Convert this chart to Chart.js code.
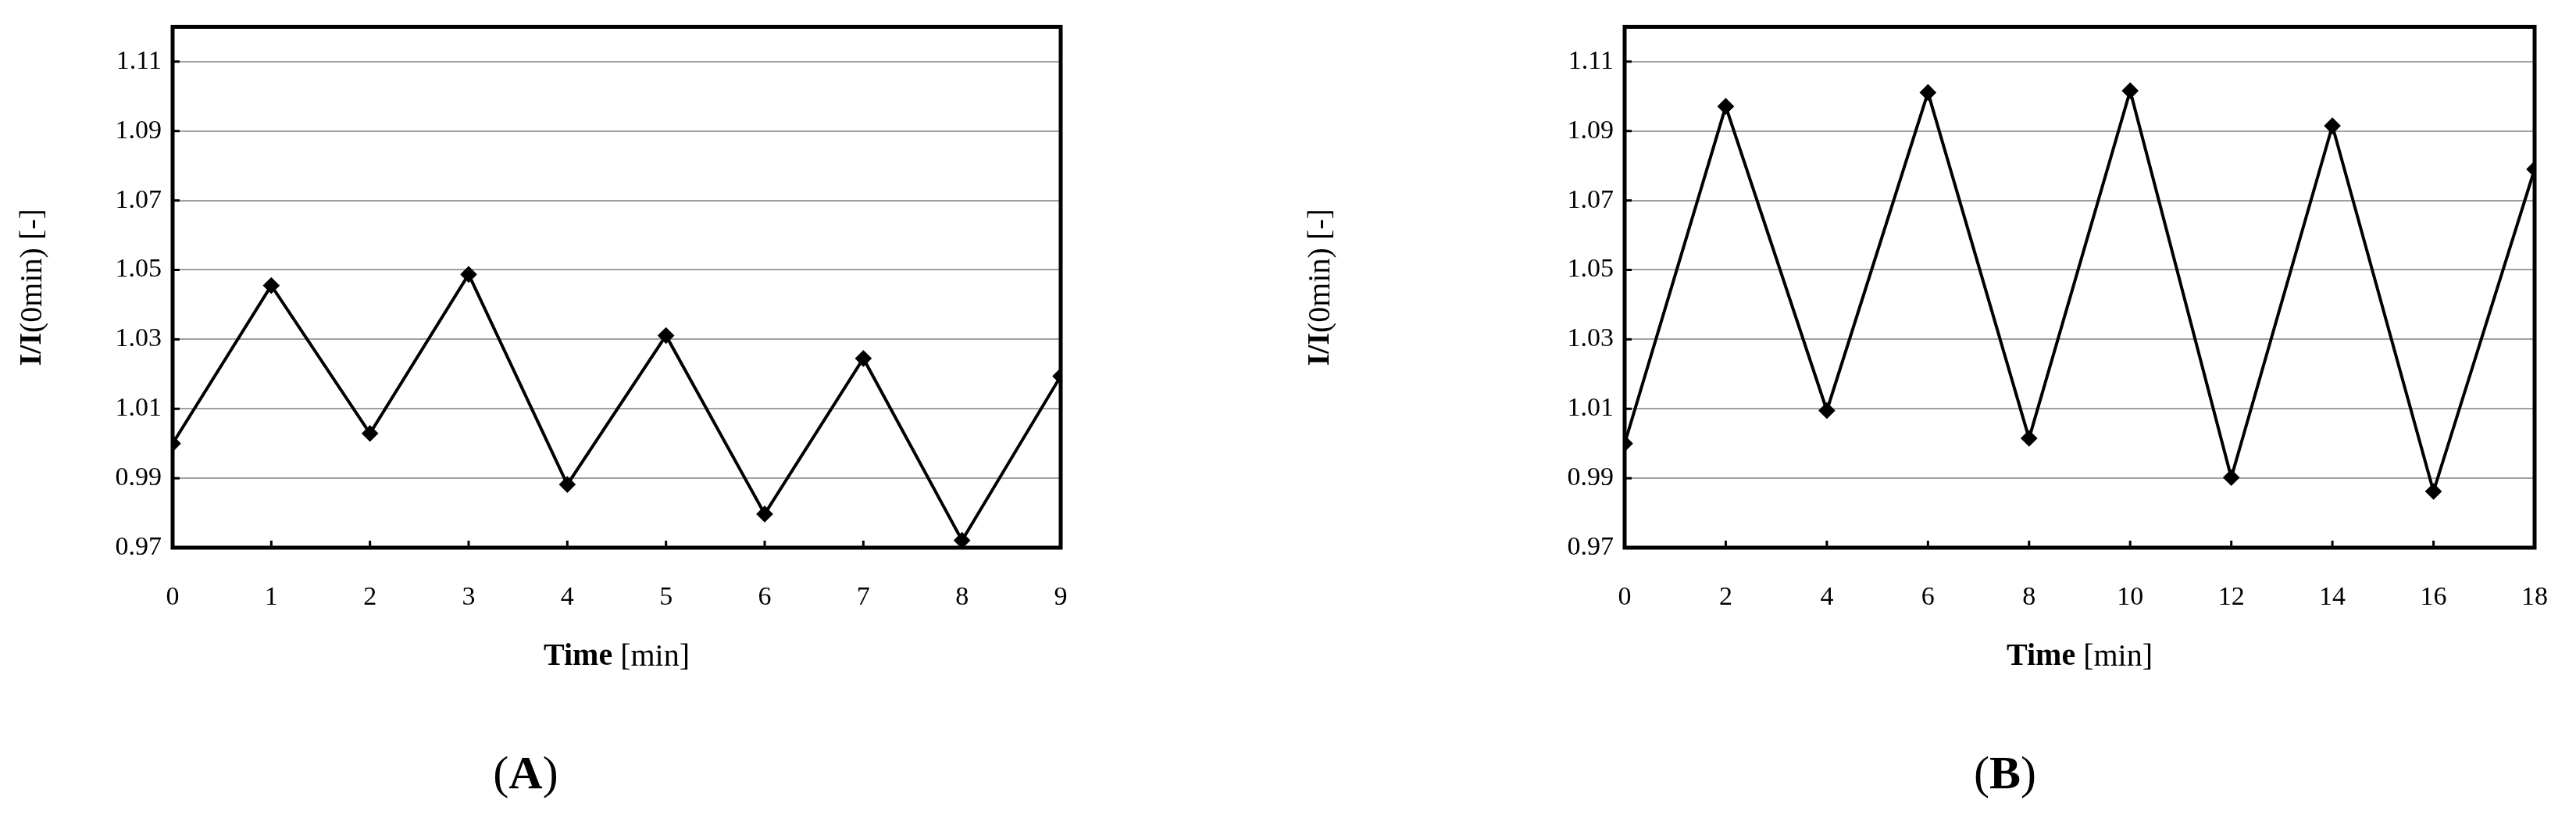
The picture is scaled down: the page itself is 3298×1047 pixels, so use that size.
<!DOCTYPE html>
<html>
<head>
<meta charset="utf-8">
<script src="https://cdn.jsdelivr.net/npm/chart.js@4"></script>
<style>
body { margin: 0; background: #fff; width: 3298px; height: 1047px; position: relative; overflow: hidden; }
.box { position: absolute; top: 0; width: 1649px; height: 1047px; }
.lbl { position: absolute; top: 955px; font: 60px "Liberation Serif"; transform: translateX(-50%); }
</style>
</head>
<body>
<div class="box" style="left:0"><canvas id="chartA"></canvas></div>
<div class="box" style="left:1649px"><canvas id="chartB"></canvas></div>
<div class="lbl" style="left:673px">(<b>A</b>)</div>
<div class="lbl" style="left:2567px">(<b>B</b>)</div>
<script>
// valori
let timeA = [0, 1, 2, 3, 4, 5, 6, 7, 8, 9],
    ratioA = [1.000, 1.0455, 1.0029, 1.0487, 0.9882, 1.0311, 0.9797, 1.0245, 0.9721, 1.0194],
    timeB = [0, 2, 4, 6, 8, 10, 12, 14, 16, 18],
    ratioB = [1.000, 1.0971, 1.0095, 1.1011, 1.0015, 1.1016, 0.9902, 1.0915, 0.9862, 1.079],
    yTicks = [0.97, 0.99, 1.01, 1.03, 1.05, 1.07, 1.09, 1.11];

// titoli degli assi con parti in grassetto + tacche interne + cornice
let decorPlugin = {
    id: "decor",
    afterDraw(chart) {
        let c = chart.ctx, a = chart.chartArea, xs = chart.scales.x, ys = chart.scales.y;
        c.save();
        c.strokeStyle = "#000";
        c.lineWidth = 3;
        xs.ticks.forEach(t => {
            let px = xs.getPixelForValue(t.value);
            c.beginPath(); c.moveTo(px, a.bottom); c.lineTo(px, a.bottom - 9); c.stroke();
        });
        ys.ticks.forEach(t => {
            let py = ys.getPixelForValue(t.value);
            c.beginPath(); c.moveTo(a.left, py); c.lineTo(a.left + 9, py); c.stroke();
        });
        c.lineWidth = 5;
        c.strokeRect(a.left, a.top, a.right - a.left, a.bottom - a.top);
        c.fillStyle = "#000";
        c.textBaseline = "middle";
        // titolo asse x
        let seg = [["bold 40px 'Liberation Serif'", "Time "], ["40px 'Liberation Serif'", "[min]"]];
        drawSegs(c, seg, (a.left + a.right) / 2, 841);
        // titolo asse y
        c.translate(42, (a.top + a.bottom) / 2);
        c.rotate(-Math.PI / 2);
        seg = [["bold 40px 'Liberation Serif'", "I/I"], ["40px 'Liberation Serif'", "(0min) [-]"]];
        drawSegs(c, seg, 0, 0);
        c.restore();
    }
};

function drawSegs(c, seg, cx, cy) {
    let w = 0;
    seg.forEach(s => { c.font = s[0]; w += c.measureText(s[1]).width; });
    let x = cx - w / 2;
    c.textAlign = "left";
    seg.forEach(s => { c.font = s[0]; c.fillText(s[1], x, cy); x += c.measureText(s[1]).width; });
}

function creaGrafico(id, xs, ys, xMax, xStep, plotLeft, plotRight) {
    let pts = xs.map((x, i) => ({ x: x, y: ys[i] }));
    return new Chart(document.getElementById(id), {
        type: "line",
        data: { datasets: [{
            data: pts,
            borderColor: "#000",
            backgroundColor: "#000",
            borderWidth: 4,
            pointStyle: "rectRot",
            pointRadius: 8,
            tension: 0
        }] },
        options: {
            responsive: false,
            animation: false,
            layout: { padding: { left: 0, right: 1649 - plotRight, top: 22, bottom: 0 } },
            plugins: { legend: { display: false }, tooltip: { enabled: false } },
            scales: {
                x: {
                    type: "linear", min: 0, max: xMax,
                    ticks: { stepSize: xStep, color: "#000", padding: 36, font: { family: "Liberation Serif", size: 34 } },
                    grid: { display: false },
                    border: { display: false },
                    afterFit(s) { s.height = 1047 - 22 - 679; }
                },
                y: {
                    min: 0.97, max: 1.12,
                    afterBuildTicks(s) { s.ticks = yTicks.map(v => ({ value: v })); },
                    ticks: { color: "#000", padding: 14, font: { family: "Liberation Serif", size: 34 },
                        callback: v => v.toFixed(2) },
                    grid: { color: "#a0a0a0", lineWidth: 2, drawTicks: false },
                    border: { display: false },
                    afterFit(s) { s.width = plotLeft; }
                }
            }
        },
        plugins: [decorPlugin]
    });
}

for (let id of ["chartA", "chartB"]) {
    let cv = document.getElementById(id);
    cv.width = 1649; cv.height = 1047;
}
creaGrafico("chartA", timeA, ratioA, 9, 1, 221, 1358);
creaGrafico("chartB", timeB, ratioB, 18, 2, 2080 - 1649, 3256 - 1649);
</script>
</body>
</html>
